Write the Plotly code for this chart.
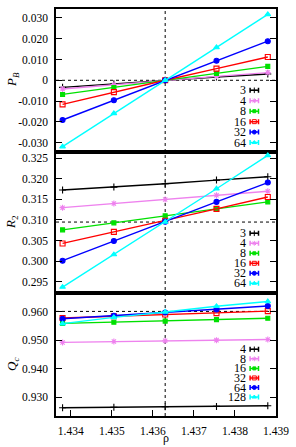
import plotly.graph_objects as go

# ---------------- data ----------------
rho = [1.4338, 1.43505, 1.4363, 1.43755, 1.4388]
rho_c = 1.4363

sizes_top = ["3", "4", "8", "16", "32", "64"]
PB = {
    "3":  [-0.0034, -0.0017, 0.0000, 0.0016, 0.0030],
    "4":  [-0.0042, -0.0021, 0.0000, 0.0019, 0.0037],
    "8":  [-0.0068, -0.0035, 0.0000, 0.0033, 0.0067],
    "16": [-0.0116, -0.0057, 0.0000, 0.0056, 0.0112],
    "32": [-0.0191, -0.0096, 0.0000, 0.0094, 0.0188],
    "64": [-0.0319, -0.0159, 0.0000, 0.0158, 0.0317],
}
PB_c = 0.0

R2 = {
    "3":  [0.3173, 0.3180, 0.3188, 0.3197, 0.3205],
    "4":  [0.3130, 0.3140, 0.3150, 0.3160, 0.3170],
    "8":  [0.3076, 0.3093, 0.3110, 0.3127, 0.3144],
    "16": [0.3043, 0.3071, 0.3098, 0.3127, 0.3156],
    "32": [0.3001, 0.3049, 0.3096, 0.3144, 0.3191],
    "64": [0.2937, 0.3016, 0.3095, 0.3176, 0.3257],
}
R2_c = 0.3095

sizes_bot = ["4", "8", "16", "32", "64", "128"]
Qc = {
    "4":   [0.9263, 0.9265, 0.9267, 0.9268, 0.9270],
    "8":   [0.9493, 0.9496, 0.9499, 0.9501, 0.9503],
    "16":  [0.9560, 0.9564, 0.9568, 0.9573, 0.9578],
    "32":  [0.9579, 0.9585, 0.9591, 0.9596, 0.9603],
    "64":  [0.9576, 0.9587, 0.9598, 0.9609, 0.9621],
    "128": [0.9559, 0.9581, 0.9600, 0.9620, 0.9637],
}
Qc_c = 0.9602

x_ticks = [1.434, 1.435, 1.436, 1.437, 1.438, 1.439]
pb_ticks = [0.030, 0.020, 0.010, 0.0, -0.010, -0.020, -0.030]
pb_ticktext = ["0.030", "0.020", "0.010", "0", "-0.010", "-0.020", "-0.030"]
r2_ticks = [0.295, 0.300, 0.305, 0.310, 0.315, 0.320, 0.325]
qc_ticks = [0.930, 0.940, 0.950, 0.960]

# ---------------- style ----------------
W, H = 296, 447
colors = ["#000000", "#ee82ee", "#00e000", "#ff0000", "#0000ff", "#00ffff"]
symbols = ["cross-thin-open", "asterisk-open", "square", "square-open", "circle", "triangle-up"]
msize = [5, 5, 4, 5, 5, 5]
FONT = "Liberation Serif, Times New Roman, serif"
FS = 11.5

X0, X1 = 56, 276
panels = [(9, 152), (152, 293), (293, 416)]  # pixel top/bottom


def ydom(t, b):
    return [1 - b / H, 1 - t / H]


def px(x):
    return x / W


def py(y):
    return 1 - y / H


fig = go.Figure()


def add_series(ax_idx, labels, table):
    xa = "x" if ax_idx == 1 else f"x{ax_idx}"
    ya = "y" if ax_idx == 1 else f"y{ax_idx}"
    for i, lab in enumerate(labels):
        fig.add_trace(go.Scatter(
            x=rho, y=table[lab], xaxis=xa, yaxis=ya, mode="lines+markers",
            line=dict(color=colors[i], width=1.4),
            marker=dict(symbol=symbols[i], size=msize[i], color=colors[i],
                        line=dict(color=colors[i], width=1.1)),
            showlegend=False, hoverinfo="skip"))


add_series(1, sizes_top, PB)
add_series(2, sizes_top, R2)
add_series(3, sizes_bot, Qc)

# legend samples on a hidden pixel-coordinate overlay axis
legend_rows = [(90.3, 10.45, sizes_top), (233.3, 10.0, sizes_top), (349.3, 9.55, sizes_bot)]
annotations = []
for start, step, labs in legend_rows:
    for i, lab in enumerate(labs):
        yy = start + i * step
        fig.add_trace(go.Scatter(
            x=[254.3], y=[yy], xaxis="x4", yaxis="y4", mode="markers",
            marker=dict(symbol=symbols[i], size=msize[i] - 1, color=colors[i],
                        line=dict(color=colors[i], width=1.0)),
            error_x=dict(type="constant", value=4.2, color=colors[i], thickness=1.5, width=2.5),
            showlegend=False, hoverinfo="skip"))
        annotations.append(dict(
            x=px(247), y=py(yy), xref="paper", yref="paper", text=lab, showarrow=False,
            xanchor="right", yanchor="middle", borderpad=0,
            font=dict(family=FONT, size=12, color="black")))

axis_common = dict(showgrid=False, zeroline=False, showline=True, linecolor="black",
                   linewidth=1.5, mirror=True, ticks="inside", ticklen=6, tickwidth=1,
                   tickcolor="black", automargin=False,
                   tickfont=dict(family=FONT, size=FS, color="black"))
xr = [1.43364, 1.439]
xdom = [X0 / W, X1 / W]

layout = dict(
    width=W, height=H, margin=dict(l=0, r=0, t=0, b=0, autoexpand=False),
    paper_bgcolor="white", plot_bgcolor="rgba(0,0,0,0)",
    xaxis=dict(axis_common, domain=xdom, range=xr, anchor="y", showticklabels=False, ticks=""),
    xaxis2=dict(axis_common, domain=xdom, range=xr, anchor="y2", showticklabels=False, ticks=""),
    xaxis3=dict(axis_common, domain=xdom, range=xr, anchor="y3", tickvals=x_ticks,
                ticktext=[f"{v:.3f}" for v in x_ticks], mirror=True, ticklabelstandoff=3),
    yaxis=dict(axis_common, domain=ydom(*panels[0]), range=[-0.0345, 0.0343], anchor="x",
               tickvals=pb_ticks, ticktext=pb_ticktext, mirror="allticks", ticklabelstandoff=4),
    yaxis2=dict(axis_common, domain=ydom(*panels[1]), range=[0.29225, 0.32653], anchor="x2",
                tickvals=r2_ticks, ticktext=[f"{v:.3f}" for v in r2_ticks], mirror="allticks",
                ticklabelstandoff=4),
    yaxis3=dict(axis_common, domain=ydom(*panels[2]), range=[0.92342, 0.96668], anchor="x3",
                tickvals=qc_ticks, ticktext=[f"{v:.3f}" for v in qc_ticks], mirror="allticks",
                ticklabelstandoff=4),
    xaxis4=dict(domain=[0, 1], range=[0, W], visible=False, anchor="y4", fixedrange=True,
                automargin=False),
    yaxis4=dict(domain=[0, 1], range=[H, 0], visible=False, anchor="x4", fixedrange=True,
                automargin=False),
)
fig.update_layout(**layout)

# dashed reference lines
dash = dict(color="black", width=1, dash="3px,3px")
shapes = [
    dict(type="line", xref="x3", yref="paper", x0=rho_c, x1=rho_c,
         y0=py(panels[2][1]), y1=py(panels[0][0]), line=dash, layer="below"),
    dict(type="line", xref="x domain", yref="y", x0=0, x1=1, y0=PB_c, y1=PB_c, line=dash, layer="below"),
    dict(type="line", xref="x2 domain", yref="y2", x0=0, x1=1, y0=R2_c, y1=R2_c, line=dash, layer="below"),
    dict(type="line", xref="x3 domain", yref="y3", x0=0, x1=1, y0=Qc_c, y1=Qc_c, line=dash, layer="below"),
]

# axis titles
titles = [
    ("<i>P</i><sub><i>B</i></sub>", 80),
    ("<i>R</i><sub>2</sub>", 222),
    ("<i>Q</i><sub><i>c</i></sub>", 365),
]
for txt, yy in titles:
    annotations.append(dict(x=px(12), y=py(yy), xref="paper", yref="paper", text=txt,
                            showarrow=False, textangle=-90, xanchor="center", yanchor="middle",
                            font=dict(family=FONT, size=13, color="black")))
# x-axis title: anchored by its top edge just below the tick labels
annotations.append(dict(x=px(166), y=py(430), xref="paper", yref="paper", text="ρ",
                        showarrow=False, xanchor="center", yanchor="top", borderpad=0,
                        font=dict(family=FONT, size=12, color="black")))

fig.update_layout(shapes=shapes, annotations=annotations)
fig.write_html("out.html", config={"displayModeBar": False},
               post_script="document.body.style.margin='0px';document.body.style.overflow='hidden';")
